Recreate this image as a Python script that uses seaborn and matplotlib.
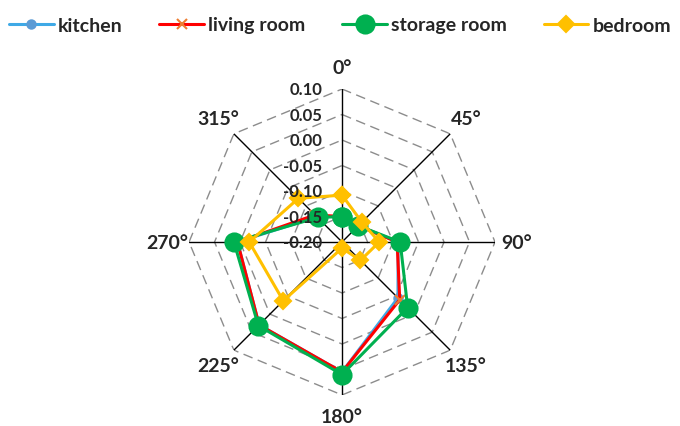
import numpy as np
import pandas as pd
import matplotlib
matplotlib.use("Agg")
import matplotlib.pyplot as plt
import seaborn as sns

# directions (degrees, clockwise from top)
angles = [0, 45, 90, 135, 180, 225, 270, 315]
angle_labels = ["0°", "45°", "90°", "135°", "180°", "225°", "270°", "315°"]

kitchen = [-0.150, -0.155, -0.090, -0.045, 0.055, 0.030, 0.005, -0.130]
living_room = [-0.150, -0.155, -0.092, -0.040, 0.055, 0.030, 0.005, -0.125]
storage_room = [-0.150, -0.155, -0.086, -0.018, 0.060, 0.032, 0.012, -0.132]
bedroom = [-0.108, -0.145, -0.127, -0.149, -0.188, -0.037, -0.018, -0.079]

r_ticks = [-0.20, -0.15, -0.10, -0.05, 0.00, 0.05, 0.10]

sns.set_style("white")
plt.rcParams["font.family"] = ["Lato", "DejaVu Sans"]

fig = plt.figure(figsize=(6.8, 4.27), dpi=100)
ax = fig.add_axes([0.278, 0.0726, 0.45, 0.7166], projection="polar")
ax.set_theta_zero_location("N")
ax.set_theta_direction(-1)
ax.set_ylim(-0.20, 0.10)
ax.grid(False)
ax.set_xticks([])
ax.set_yticks([])
ax.spines["polar"].set_visible(False)

theta = np.deg2rad(angles)
theta_closed = np.append(theta, theta[0])

# octagonal grid rings
for v in r_ticks[1:]:
    ax.plot(theta_closed, [v] * len(theta_closed), color="#8c8c8c",
            lw=1.0, ls=(0, (7, 4)), zorder=1)
# spokes
for t in theta:
    ax.plot([t, t], [-0.20, 0.10], color="black", lw=1.0, zorder=1)

series = [
    ("kitchen", kitchen, "#3fa9e6", "o", "#5b9bd5", 6),
    ("living room", living_room, "#ff0000", "x", "#ed7d31", 7),
    ("storage room", storage_room, "#00b050", "o", "#00b050", 13),
    ("bedroom", bedroom, "#ffc000", "D", "#ffc000", 8),
]

for name, vals, lc, mk, mc, ms in series:
    df = pd.DataFrame({"theta": theta_closed, "r": vals + [vals[0]]})
    sns.lineplot(data=df, x="theta", y="r", sort=False, estimator=None,
                 color=lc, lw=2.2, marker=mk, markersize=ms,
                 markerfacecolor=mc, markeredgecolor=mc, markeredgewidth=1.5,
                 label=name, ax=ax, zorder=3)

ax.set_xlabel("")
ax.set_ylabel("")
handles, labels = ax.get_legend_handles_labels()
ax.get_legend().remove()

# radial value labels
for v in r_ticks:
    ax.annotate(f"{v:.2f}", xy=(0, v), xytext=(-14, 0),
                textcoords="offset points", ha="right", va="center",
                fontsize=12, fontweight="bold", zorder=5)

# direction labels
for t, lab in zip(theta, angle_labels):
    ax.text(t, 0.143, lab, ha="center", va="center", fontsize=14,
            fontweight="bold", clip_on=False)

fig.legend(handles, labels, loc="upper center", bbox_to_anchor=(0.5, 1.0),
           ncol=4, frameon=False, handlelength=2.3, handletextpad=0.2,
           columnspacing=1.9, prop={"weight": "bold", "size": 14})

fig.savefig("out.png", dpi=100)
